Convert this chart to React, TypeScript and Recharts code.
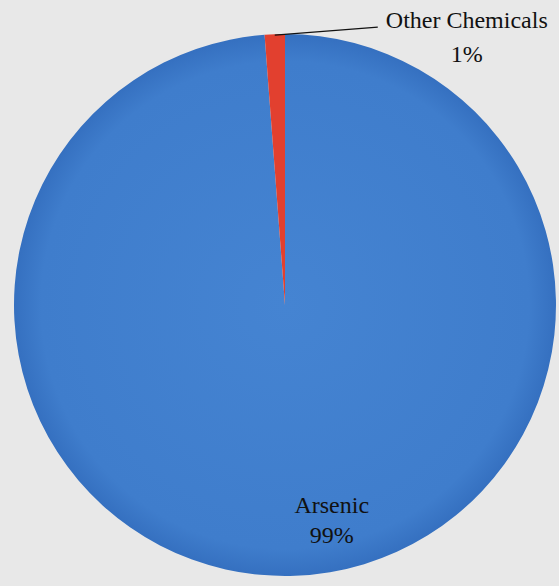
import React from 'react';
import { PieChart, Pie, Cell } from 'recharts';

const categories = ['Arsenic', 'Other Chemicals'];
const shares = [98.8, 1.2];
const shareLabels = ['99%', '1%'];
const colors = ['url(#blueFill)', '#e2402f'];

const data = categories.map((name, i) => ({ name, value: shares[i], pct: shareLabels[i] }));

const RAD = Math.PI / 180;
const serif = { fontFamily: '"Liberation Serif", "Times New Roman", serif', fontSize: 24 };

const renderLabel = (props: any) => {
    const { cx, cy, midAngle, outerRadius, index } = props;
    if (index === 0) {
        const r = outerRadius * 0.76;
        const x = cx + r * Math.cos(-midAngle * RAD) + 39;
        const y = cy + r * Math.sin(-midAngle * RAD) + 2;
        return (
            <g>
                <text x={x} y={y} textAnchor="middle" fill="#111" style={serif}>{data[index].name}</text>
                <text x={x} y={y + 30} textAnchor="middle" fill="#111" style={serif}>{data[index].pct}</text>
            </g>
        );
    }
    const sx = cx + outerRadius * Math.cos(-midAngle * RAD);
    const sy = cy + outerRadius * Math.sin(-midAngle * RAD);
    const ex = sx + 103;
    const ey = sy - 7;
    return (
        <g>
            <polyline points={`${sx},${sy + 1} ${ex},${ey}`} stroke="#111" strokeWidth={1.3} fill="none" />
            <text x={ex + 89} y={ey + 1} textAnchor="middle" fill="#111" style={serif}>{data[index].name}</text>
            <text x={ex + 89} y={ey + 35} textAnchor="middle" fill="#111" style={serif}>{data[index].pct}</text>
        </g>
    );
};

export default function App() {
    return (
        <div style={{ position: 'fixed', top: 0, left: 0, width: 559, height: 586, background: '#e8e8e8' }}>
            <PieChart width={559} height={586} margin={{ top: 0, right: 0, bottom: 0, left: 0 }}>
                <defs>
                    <radialGradient id="blueFill" cx="50%" cy="50%" r="50%">
                        <stop offset="0%" stopColor="#4584d2" />
                        <stop offset="90%" stopColor="#3f7dcc" />
                        <stop offset="100%" stopColor="#3570c0" />
                    </radialGradient>
                </defs>
                <Pie
                    data={data}
                    dataKey="value"
                    nameKey="name"
                    cx={285}
                    cy={305}
                    outerRadius={271}
                    startAngle={90}
                    endAngle={-270}
                    stroke="none"
                    labelLine={false}
                    label={renderLabel}
                    isAnimationActive={false}
                >
                    {data.map((d, i) => (
                        <Cell key={d.name} fill={colors[i]} />
                    ))}
                </Pie>
            </PieChart>
        </div>
    );
}
